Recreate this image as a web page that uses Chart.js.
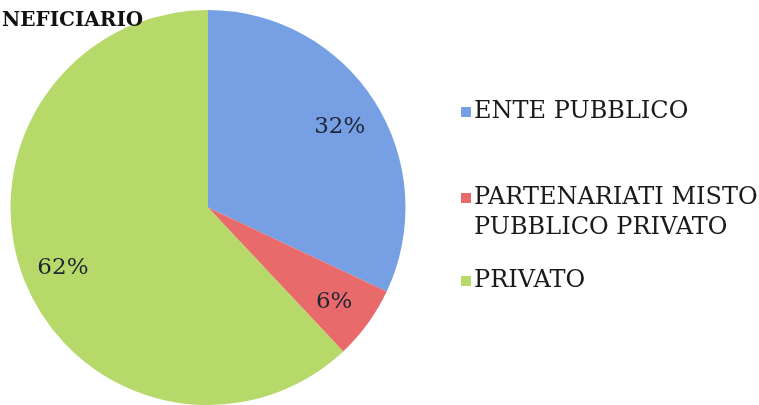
<!DOCTYPE html>
<html lang="it">
<head>
    <meta charset="UTF-8">
    <title>Beneficiario</title>
    <script src="https://cdn.jsdelivr.net/npm/chart.js"></script>
    <style>
        html, body { margin: 0; padding: 0; background: #fff; }
        #wrap { position: relative; width: 759px; height: 405px; }
    </style>
</head>
<body>
    <div id="wrap"><canvas id="pie" width="759" height="405"></canvas></div>

    <script>
        // Data
        const categories = ['ENTE PUBBLICO', 'PARTENARIATI MISTO PUBBLICO PRIVATO', 'PRIVATO'];
        const legendLines = [['ENTE PUBBLICO'], ['PARTENARIATI MISTO', 'PUBBLICO PRIVATO'], ['PRIVATO']];
        const shares = [32, 6, 62];
        const colors = ['#77a0e4', '#e96a6a', '#b6d96a'];
        const titleText = 'NEFICIARIO';

        const serif = '"DejaVu Serif", "Liberation Serif", serif';

        // percentage labels inside the slices
        const sliceLabels = {
            id: 'sliceLabels',
            afterDatasetsDraw(chart) {
                const ctx = chart.ctx;
                const meta = chart.getDatasetMeta(0);
                ctx.save();
                ctx.font = '23px ' + serif;
                ctx.fillStyle = '#1e2533';
                ctx.textAlign = 'center';
                ctx.textBaseline = 'middle';
                meta.data.forEach((arc, i) => {
                    const p = arc.getProps(['x', 'y', 'startAngle', 'endAngle', 'outerRadius'], true);
                    const mid = (p.startAngle + p.endAngle) / 2;
                    const r = p.outerRadius * 0.79;
                    ctx.fillText(shares[i] + '%', p.x + Math.cos(mid) * r, p.y + 3 + Math.sin(mid) * r);
                });
                ctx.restore();
            }
        };

        // title and legend on the right
        const sideLegend = {
            id: 'sideLegend',
            afterDraw(chart) {
                const ctx = chart.ctx;
                ctx.save();
                ctx.fillStyle = '#111';
                ctx.font = 'bold 20px ' + serif;
                ctx.textBaseline = 'middle';
                ctx.fillText(titleText, 2, 21);

                const tops = [112, 198, 281];
                ctx.font = '24px ' + serif;
                legendLines.forEach((lines, i) => {
                    ctx.fillStyle = colors[i];
                    ctx.fillRect(461, tops[i] - 5, 10, 10);
                    ctx.fillStyle = '#1a1a1a';
                    lines.forEach((t, j) => ctx.fillText(t, 474, tops[i] + j * 30));
                });
                ctx.restore();
            }
        };

        new Chart(document.getElementById('pie'), {
            type: 'pie',
            data: {
                labels: categories,
                datasets: [{
                    data: shares,
                    backgroundColor: colors,
                    borderWidth: 0
                }]
            },
            options: {
                responsive: false,
                animation: false,
                layout: { padding: { left: 10, top: 10, right: 353, bottom: 0 } },
                plugins: {
                    legend: { display: false },
                    tooltip: { enabled: false }
                }
            },
            plugins: [sliceLabels, sideLegend]
        });
    </script>
</body>
</html>
